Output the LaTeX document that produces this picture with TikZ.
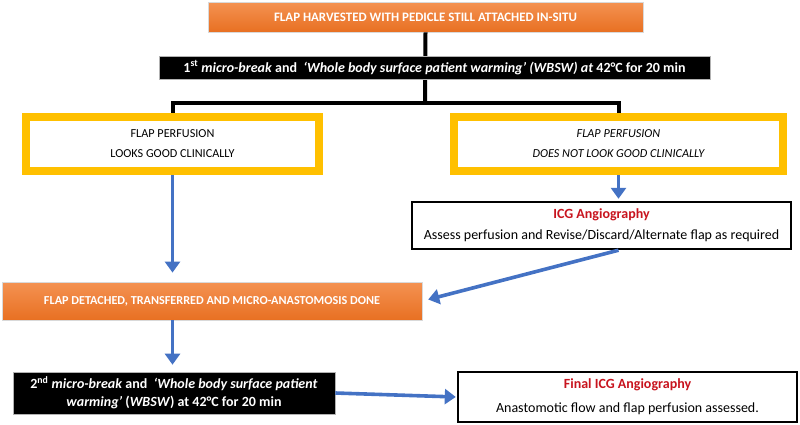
\documentclass[tikz,border=0pt]{standalone}
\usepackage{fontspec}
\setmainfont{Carlito}
\usetikzlibrary{arrows.meta,calc}
\definecolor{orgtop}{RGB}{244,146,82}
\definecolor{orgbot}{RGB}{232,112,34}
\definecolor{yel}{RGB}{255,192,0}
\definecolor{blu}{RGB}{68,114,196}
\definecolor{icgred}{RGB}{200,20,30}
\tikzset{
  orangebox/.style={draw=black!15, line width=0.8pt, top color=orgtop, bottom color=orgbot, text=white, font=\bfseries\fontsize{12.2}{14}\selectfont, inner sep=0pt, align=center},
  blackbox/.style={draw=black!30, line width=0.6pt, fill=black, text=white, font=\bfseries\fontsize{14}{16}\selectfont, inner sep=0pt, align=center},
  yelbox/.style={draw=yel, line width=8pt, fill=white, font=\fontsize{12.2}{20}\selectfont, inner sep=0pt, align=center},
  icgbox/.style={draw=black, line width=2.4pt, fill=white, font=\fontsize{14}{21}\selectfont, inner sep=0pt, align=center},
  blkline/.style={line width=4pt, black},
  bluarrow/.style={line width=3.6pt, blu, -{Triangle[width=15pt,length=11pt]}},
}
\begin{document}
\begin{tikzpicture}[x=1pt,y=-1pt]
\useasboundingbox (0,0) rectangle (800,424);
\coordinate (j) at (425,103);
\node[minimum width=435pt, minimum height=30pt, orangebox, font=\bfseries\fontsize{12.9}{15}\selectfont] (top) at (425.5,17) {FLAP HARVESTED WITH PEDICLE STILL ATTACHED IN-SITU};
\node[yelbox, minimum width=293pt, minimum height=54pt] (yl) at (172.5,144) {FLAP PERFUSION\\LOOKS GOOD CLINICALLY};
\node[yelbox, minimum width=329pt, minimum height=54pt] (yr) at (618.5,144) {\itshape FLAP PERFUSION\\\itshape DOES NOT LOOK GOOD CLINICALLY};
\draw[blkline] (top.south) -- (j);
\draw[blkline] (yl.north) |- (j) -| (yr.north);
\node[blackbox, minimum width=551pt, minimum height=23pt] (b1) at (434.5,67.5) {1\textsuperscript{st} \textit{micro-break} and \ \textit{‘Whole body surface patient warming’ (WBSW) at} 42°C for 20 min};
\node[yelbox, minimum width=293pt, minimum height=54pt] at (172.5,144) {FLAP PERFUSION\\LOOKS GOOD CLINICALLY};
\node[yelbox, minimum width=329pt, minimum height=54pt] at (618.5,144) {\itshape FLAP PERFUSION\\\itshape DOES NOT LOOK GOOD CLINICALLY};
\node[icgbox, minimum width=379pt, minimum height=47pt] (icg) at (601.5,225.5) {\textcolor{icgred}{\bfseries ICG Angiography}\\Assess perfusion and Revise/Discard/Alternate flap as required};
\node[orangebox, minimum width=420pt, minimum height=38pt] (o2) at (212,301) {FLAP DETACHED, TRANSFERRED AND MICRO-ANASTOMOSIS DONE};
\node[blackbox, minimum width=322pt, minimum height=42pt, font=\bfseries\fontsize{14}{18}\selectfont] (b2) at (174,393) {2\textsuperscript{nd} \textit{micro-break} and \ \textit{‘Whole body surface patient}\\\textit{warming’} (\textit{WBSW}) at 42°C for 20 min};
\node[icgbox, minimum width=339pt, minimum height=50pt, font=\fontsize{14}{24}\selectfont] (fin) at (627.5,397) {\textcolor{icgred}{\bfseries Final ICG Angiography}\\Anastomotic flow and flap perfusion assessed.};
\draw[bluarrow, shorten >=9pt] (yl.south) -- (yl.south |- o2.north);
\draw[bluarrow, shorten >=2pt] (yr.south) -- (yr.south |- icg.north);
\draw[bluarrow, shorten >=6pt] (yr.south |- icg.south) -- (o2.east);
\draw[bluarrow, shorten >=7pt] (yl.south |- o2.south) -- (yl.south |- b2.north);
\draw[bluarrow, shorten >=1pt] (b2.east) -- (fin.west);
\end{tikzpicture}
\end{document}
